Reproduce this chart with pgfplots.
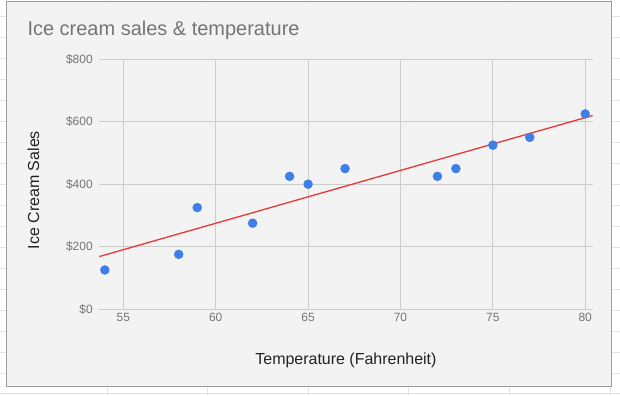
\documentclass[border=0pt]{standalone}
\usepackage{pgfplots}
\pgfplotsset{compat=1.18}
\usepackage{fontspec}
\setmainfont{Liberation Sans}
\definecolor{bgc}{HTML}{F3F3F3}
\definecolor{framec}{HTML}{9E9E9E}
\definecolor{sheetc}{HTML}{E2E2E2}
\definecolor{gridc}{HTML}{CCCCCC}
\definecolor{tickc}{HTML}{757575}
\definecolor{labc}{HTML}{222222}
\definecolor{dotc}{HTML}{3D7FE6}
\definecolor{trendc}{HTML}{E53935}
\begin{document}
\begin{tikzpicture}[x=1pt,y=1pt]
% page and spreadsheet background
\fill[white] (0,0) rectangle (620,395);
\foreach \yy in {16,37,58,79,100,121,142,163,184,205,226,247,268,289,310,331,352,373,394}
  \draw[sheetc, line width=0.8pt] (0,395-\yy) -- (620,395-\yy);
\foreach \xx in {107,207.5,308,409,510,611}
  \draw[sheetc, line width=0.8pt] (\xx,0) -- (\xx,395);
\fill[bgc] (6,8) rectangle (612,394);
\draw[framec, line width=1pt] (6,8) rectangle (612,394);
\node[anchor=base west, text=tickc, font=\fontsize{20}{24}\selectfont, inner sep=0pt] at (27,359.5) {Ice cream sales \& temperature};
\begin{axis}[
  at={(99pt,86pt)}, anchor=south west,
  scale only axis, width=494pt, height=250pt,
  xmin=53.7, xmax=80.4, ymin=0, ymax=800,
  xtick={55,60,65,70,75,80},
  ytick={0,200,400,600,800},
  axis line style={draw=none},
  major tick length=0pt,
  grid=major,
  major grid style={draw=gridc, line width=0.8pt},
  extra y ticks={0},
  extra y tick labels={},
  extra y tick style={grid style={draw=black!85, line width=1.1pt}},
  /pgf/number format/assume math mode=true,
  ticklabel style={font=\fontsize{12}{14}\selectfont, text=tickc},
  yticklabel={\$\pgfmathprintnumber{\tick}},
  yticklabel style={anchor=east, xshift=-3pt},
  xticklabel style={anchor=center, yshift=-8pt},
  xlabel={Temperature (Fahrenheit)},
  ylabel={Ice Cream Sales},
  label style={font=\fontsize{16}{18}\selectfont, text=labc},
  xlabel style={at={(axis description cs:0.5,-0.204)}, anchor=center},
  ylabel style={at={(axis description cs:-0.1336,0.476)}, anchor=center, rotate=0},
  clip=false,
]
\addplot[trendc, line width=1.3pt] coordinates {(53.7,168) (80.4,620)};
\addplot[only marks, mark=*, mark size=4.5pt, mark options={fill=dotc, draw=dotc}] coordinates {
(54,125) (58,175) (59,325) (62,275) (64,425) (65,400) (67,450) (72,425) (73,450) (75,525) (77,550) (80,625)
};
\end{axis}
\end{tikzpicture}
\end{document}
